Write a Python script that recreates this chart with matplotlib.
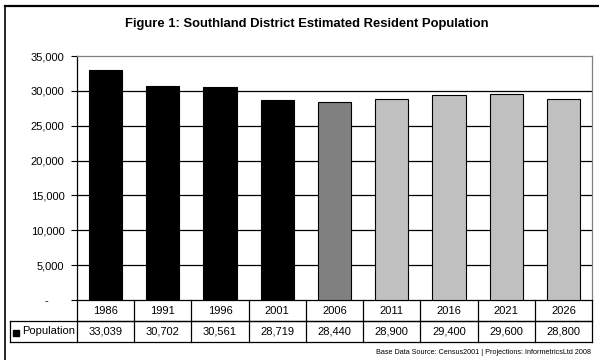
import matplotlib
matplotlib.use("Agg")
import matplotlib.pyplot as plt
import matplotlib.transforms as mtransforms
from matplotlib.patches import Rectangle
from matplotlib.lines import Line2D

plt.rcParams['font.family'] = ['Liberation Sans', 'DejaVu Sans']

years = ['1986', '1991', '1996', '2001', '2006', '2011', '2016', '2021', '2026']
population = [33039, 30702, 30561, 28719, 28440, 28900, 29400, 29600, 28800]
pop_labels = ['33,039', '30,702', '30,561', '28,719', '28,440', '28,900', '29,400', '29,600', '28,800']
bar_colors = ['black', 'black', 'black', 'black', '#808080', '#c0c0c0', '#c0c0c0', '#c0c0c0', '#c0c0c0']
yticks = [0, 5000, 10000, 15000, 20000, 25000, 30000, 35000]
ytick_labels = ['-     ', '5,000', '10,000', '15,000', '20,000', '25,000', '30,000', '35,000']

W, H = 599, 360
fig = plt.figure(figsize=(W / 100, H / 100), dpi=100)

# plot area in pixels: x 77..592, y 56..300
ax = fig.add_axes([77 / W, 1 - 300 / H, (592 - 77) / W, (300 - 56) / H])
x = list(range(len(years)))
ax.bar(x, population, width=0.58, color=bar_colors, edgecolor='black', linewidth=0.8, zorder=3)
ax.set_xlim(-0.5, len(years) - 0.5)
ax.set_ylim(0, 35000)
ax.set_yticks(yticks)
ax.set_yticklabels(ytick_labels, fontsize=8)
ax.set_xticks([])
for yv in yticks[1:-1]:
    ax.axhline(yv, color='black', linewidth=0.9, zorder=1)
ax.tick_params(axis='y', length=4, width=0.8, color='black', pad=5)
ax.spines['top'].set_color('#808080')
ax.spines['right'].set_color('#808080')
ax.spines['left'].set_color('black')
ax.spines['bottom'].set_color('black')
for s in ax.spines.values():
    s.set_linewidth(0.9)

# data table under the axis
trans = mtransforms.blended_transform_factory(ax.transData, ax.transAxes)
rh = 21 / 244.0
xl = -0.5 - (77 - 10) / ((592 - 77) / len(years))
lk = dict(color='black', linewidth=0.9, transform=trans, clip_on=False)
ax.add_line(Line2D([-0.5, len(years) - 0.5], [-rh, -rh], **lk))
ax.add_line(Line2D([xl, len(years) - 0.5], [-rh, -rh], **lk))
ax.add_line(Line2D([xl, len(years) - 0.5], [-2 * rh, -2 * rh], **lk))
ax.add_line(Line2D([xl, xl], [-rh, -2 * rh], **lk))
for i in range(len(years) + 1):
    ax.add_line(Line2D([i - 0.5, i - 0.5], [0, -2 * rh], **lk))
for i in range(len(years)):
    ax.text(i, -rh / 2, years[i], transform=trans, ha='center', va='center', fontsize=8)
    ax.text(i, -1.5 * rh, pop_labels[i], transform=trans, ha='center', va='center', fontsize=8)

# legend key in the table
fig.patches.append(Rectangle((13 / W, 1 - 336 / H), 6 / W, 6 / H, transform=fig.transFigure,
                             facecolor='black', edgecolor='black'))
fig.text(22 / W, 1 - 331.5 / H, 'Population', fontsize=8, ha='left', va='center')

# title and source
fig.text(307 / W, 1 - 24 / H, 'Figure 1: Southland District Estimated Resident Population',
         fontsize=9.4, fontweight='bold', ha='center', va='center')
fig.text(591 / W, 1 - 352 / H, 'Base Data Source: Census2001 | Projections: InformetricsLtd 2008',
         fontsize=5.2, ha='right', va='center')

# outer frame
fig.add_artist(Line2D([5 / W, 5 / W], [0, 1 - 6 / H], color='black', linewidth=1.2, transform=fig.transFigure))
fig.add_artist(Line2D([5 / W, 1], [1 - 6 / H, 1 - 6 / H], color='black', linewidth=1.6, transform=fig.transFigure))

fig.savefig('out.png', dpi=100)
